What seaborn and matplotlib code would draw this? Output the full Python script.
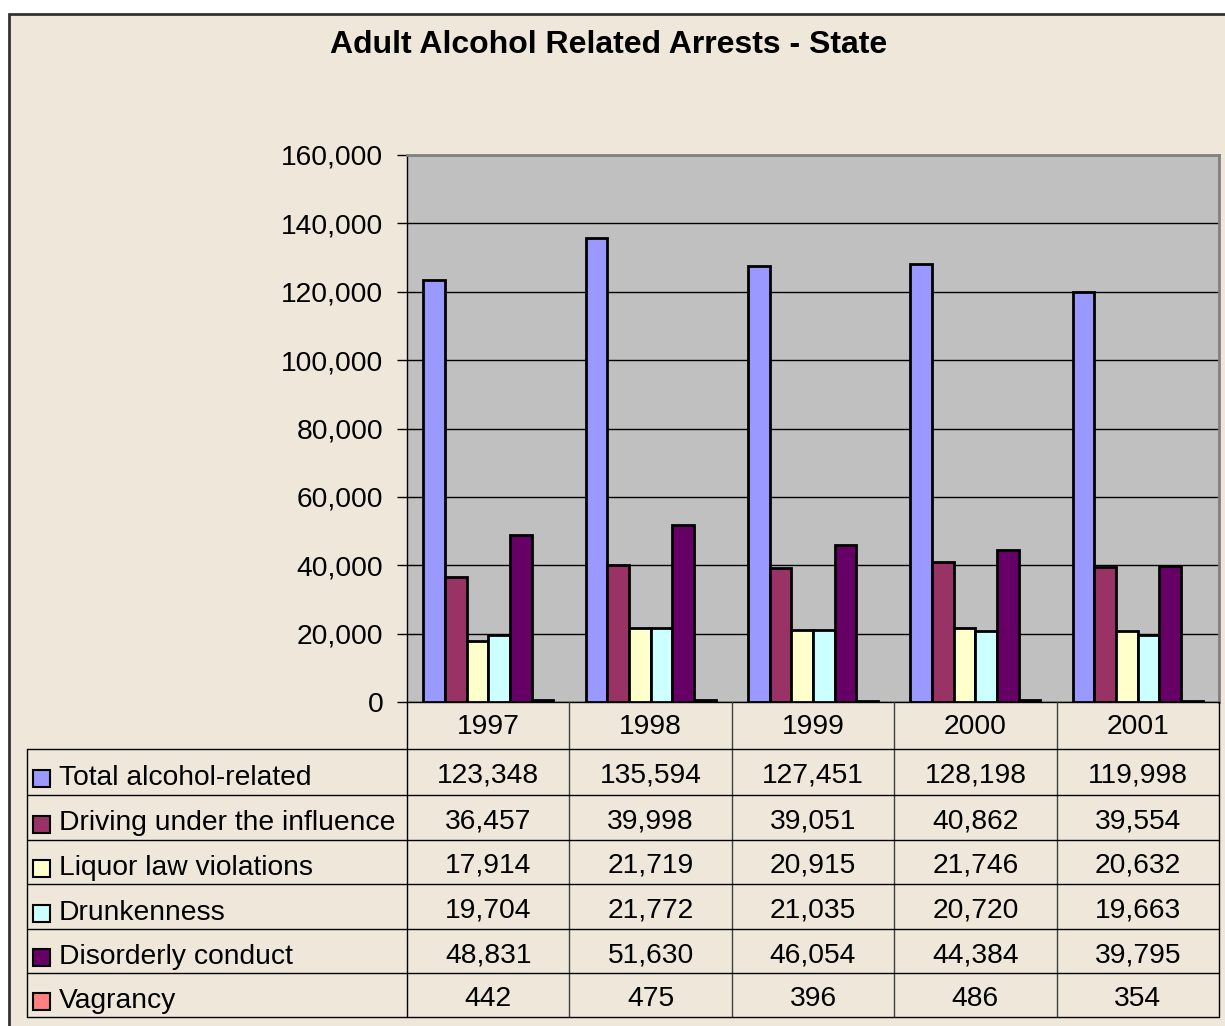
import matplotlib
matplotlib.use("Agg")
import matplotlib.pyplot as plt
import matplotlib.patches as mpatches
from matplotlib.lines import Line2D
from matplotlib.ticker import FuncFormatter
import seaborn as sns
import pandas as pd

# ---------------- data ----------------
years = ["1997", "1998", "1999", "2000", "2001"]
categories = ["Total alcohol-related", "Driving under the influence",
              "Liquor law violations", "Drunkenness", "Disorderly conduct", "Vagrancy"]
total_alcohol = [123348, 135594, 127451, 128198, 119998]
dui = [36457, 39998, 39051, 40862, 39554]
liquor = [17914, 21719, 20915, 21746, 20632]
drunkenness = [19704, 21772, 21035, 20720, 19663]
disorderly = [48831, 51630, 46054, 44384, 39795]
vagrancy = [442, 475, 396, 486, 354]
colors = ["#9999FF", "#993366", "#FFFFCC", "#CCFFFF", "#660066", "#FF8080"]
yticks = [0, 20000, 40000, 60000, 80000, 100000, 120000, 140000, 160000]
title = "Adult Alcohol Related Arrests - State"

series = [total_alcohol, dui, liquor, drunkenness, disorderly, vagrancy]
rows = []
for cat, vals in zip(categories, series):
    for yr, v in zip(years, vals):
        rows.append({"Year": yr, "Category": cat, "Arrests": v})
df = pd.DataFrame(rows)

# ---------------- figure ----------------
sns.set_style("white")
plt.rcParams["font.family"] = ["Liberation Sans", "DejaVu Sans"]
plt.rcParams["text.color"] = "black"
plt.rcParams["ytick.color"] = "black"
plt.rcParams["ytick.labelcolor"] = "black"

FS = 20.3
W, H = 1225, 1026
fig = plt.figure(figsize=(W / 100, H / 100), dpi=100, facecolor="white")

def fx(x):
    return x / W

def fy(y):
    return 1 - y / H

BG = "#EFE8DA"
# outer chart frame
fig.patches.append(mpatches.Rectangle((fx(9), fy(1040)), fx(1240) - fx(9), fy(14) - fy(1040),
                                      transform=fig.transFigure, facecolor=BG,
                                      edgecolor="#333333", linewidth=2, zorder=-5))

PL, PR, PT, PB = 407, 1219, 155, 702
ax = fig.add_axes([fx(PL), fy(PB), fx(PR) - fx(PL), fy(PT) - fy(PB)])
ax.set_zorder(2)
ax.set_facecolor("#C0C0C0")

sns.barplot(data=df, x="Year", y="Arrests", hue="Category", hue_order=categories,
            order=years, palette=colors, saturation=1, edgecolor="black", linewidth=2,
            width=0.8, ax=ax, legend=False, zorder=3)

ax.set_xlim(-0.5, 4.5)
ax.set_ylim(0, 160000)
ax.set_yticks(yticks)
ax.yaxis.set_major_formatter(FuncFormatter(lambda v, p: f"{int(v):,}"))
ax.set_xticks([])
ax.set_xlabel("")
ax.set_ylabel("")
ax.grid(axis="y", color="black", linewidth=1, zorder=1)
ax.set_axisbelow(True)
ax.tick_params(axis="y", which="major", direction="out", length=7, width=1,
               color="black", pad=10, labelsize=FS, left=True, labelcolor="black")
for s in ["top", "right"]:
    ax.spines[s].set_color("#808080")
    ax.spines[s].set_linewidth(2)
ax.spines["left"].set_color("black")
ax.spines["left"].set_linewidth(1)
ax.spines["bottom"].set_color("black")
ax.spines["bottom"].set_linewidth(1)

# title
fig.text(fx(609), fy(45), title, ha="center", va="center", fontsize=23,
         fontweight="bold", color="black")

# ---------------- data table ----------------
col_w = (PR - PL) / len(years)
row_tops = [749, 795, 840, 884, 929, 973, 1017]
TL = 27

def hline(x0, x1, y, color="black", lw=1):
    fig.lines.append(Line2D([fx(x0), fx(x1)], [fy(y), fy(y)], transform=fig.transFigure,
                            color=color, linewidth=lw))

def vline(x, y0, y1, color="black", lw=1):
    fig.lines.append(Line2D([fx(x), fx(x)], [fy(y0), fy(y1)], transform=fig.transFigure,
                            color=color, linewidth=lw))

# vertical lines
for i in range(len(years) + 1):
    x = PL + i * col_w
    vline(x, PB, row_tops[-1], color="#404040" if 0 < i < len(years) else "black")
vline(TL, row_tops[0], row_tops[-1])
# horizontal lines
for y in row_tops:
    hline(TL, PR, y)

# year headers
for i, yr in enumerate(years):
    fig.text(fx(PL + (i + 0.5) * col_w), fy((PB + row_tops[0]) / 2 + 2), yr,
             ha="center", va="center", fontsize=FS, color="black")

# rows
for r, (cat, vals, col) in enumerate(zip(categories, series, colors)):
    yc = (row_tops[r] + row_tops[r + 1]) / 2 + 6
    fig.patches.append(mpatches.Rectangle((fx(33), fy(yc + 9)), fx(17), fy(0) - fy(17),
                                          transform=fig.transFigure, facecolor=col,
                                          edgecolor="black", linewidth=1.5, zorder=3))
    fig.text(fx(59), fy(yc), cat, ha="left", va="center", fontsize=FS, color="black")
    for i, v in enumerate(vals):
        fig.text(fx(PL + (i + 0.5) * col_w), fy(yc - 2), f"{v:,}",
                 ha="center", va="center", fontsize=FS, color="black")

fig.savefig("out.png", dpi=100, facecolor="white")
